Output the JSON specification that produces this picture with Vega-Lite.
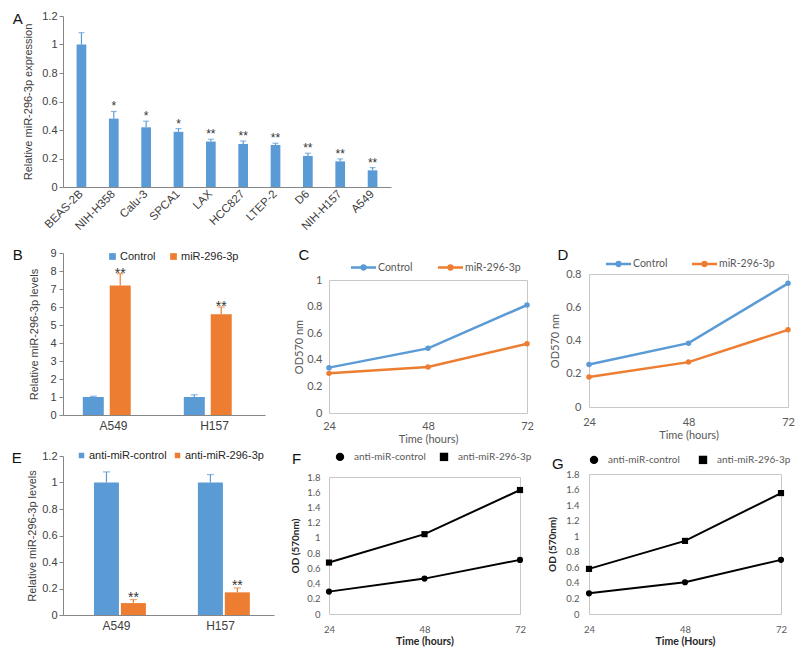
{
 "$schema": "https://vega.github.io/schema/vega-lite/v6.json",
 "padding": {"left": 11, "top": 10, "right": 5, "bottom": 5},
 "spacing": 14,
 "resolve": {"scale": {"color": "independent", "shape": "independent"}, "legend": {"color": "independent", "shape": "independent"}},
 "vconcat": [
  {
   "width": 328, "height": 171,
   "title": {"text": "A", "orient": "left", "anchor": "end", "angle": 0, "align": "right", "baseline": "middle", "offset": 1, "dx": 11, "dy": 9},
   "data": {"values": [
     {"cell": "BEAS-2B", "value": 1.0, "hi": 1.083, "sig": ""},
     {"cell": "NIH-H358", "value": 0.48, "hi": 0.53, "sig": "*"},
     {"cell": "Calu-3", "value": 0.419, "hi": 0.462, "sig": "*"},
     {"cell": "SPCA1", "value": 0.387, "hi": 0.41, "sig": "*"},
     {"cell": "LAX", "value": 0.319, "hi": 0.335, "sig": "**"},
     {"cell": "HCC827", "value": 0.302, "hi": 0.323, "sig": "**"},
     {"cell": "LTEP-2", "value": 0.295, "hi": 0.307, "sig": "**"},
     {"cell": "D6", "value": 0.218, "hi": 0.237, "sig": "**"},
     {"cell": "NIH-H157", "value": 0.18, "hi": 0.197, "sig": "**"},
     {"cell": "A549", "value": 0.117, "hi": 0.136, "sig": "**"}
   ]},
   "encoding": {
     "x": {"field": "cell", "type": "nominal", "sort": null, "title": null,
           "scale": {"paddingInner": 0.7, "paddingOuter": 0.42},
           "axis": {"labelAngle": -45, "labelAlign": "right", "labelBaseline": "middle", "ticks": false, "labelPadding": 5, "labelFontSize": 11.5}}
   },
   "layer": [
     {"mark": {"type": "bar", "color": "#5B9BD5"},
      "encoding": {"y": {"field": "value", "type": "quantitative", "title": "Relative miR-296-3p expression",
        "scale": {"domain": [0, 1.2]},
        "axis": {"values": [0, 0.2, 0.4, 0.6, 0.8, 1, 1.2], "format": "~g", "tickSize": 4, "labelPadding": 2, "titlePadding": 8}}}},
     {"mark": {"type": "rule", "color": "#5B9BD5", "strokeWidth": 1.2},
      "encoding": {"y": {"field": "value", "type": "quantitative", "title": "Relative miR-296-3p expression",
        "axis": {"values": [0, 0.2, 0.4, 0.6, 0.8, 1, 1.2], "format": "~g", "tickSize": 4, "labelPadding": 2, "titlePadding": 8}}, "y2": {"field": "hi"}}},
     {"mark": {"type": "tick", "color": "#5B9BD5", "size": 6, "thickness": 1.2},
      "encoding": {"y": {"field": "hi", "type": "quantitative", "title": "Relative miR-296-3p expression",
        "axis": {"values": [0, 0.2, 0.4, 0.6, 0.8, 1, 1.2], "format": "~g", "tickSize": 4, "labelPadding": 2, "titlePadding": 8}}}},
     {"mark": {"type": "text", "baseline": "alphabetic", "dy": -1, "fontSize": 12, "color": "#333333"},
      "encoding": {"y": {"field": "hi", "type": "quantitative", "title": "Relative miR-296-3p expression",
        "axis": {"values": [0, 0.2, 0.4, 0.6, 0.8, 1, 1.2], "format": "~g", "tickSize": 4, "labelPadding": 2, "titlePadding": 8}}, "text": {"field": "sig"}}}
   ]
  },
  {
   "resolve": {"scale": {"color": "independent", "shape": "independent"}, "legend": {"color": "independent", "shape": "independent"}},
   "hconcat": [
    {
     "resolve": {"scale": {"color": "independent"}, "legend": {"color": "independent"}},
     "vconcat": [
      {
       "width": 202, "height": 162,
       "title": {"text": "B", "orient": "left", "anchor": "end", "angle": 0, "align": "right", "baseline": "middle", "offset": 7, "dx": 11, "dy": 7.5},
       "data": {"values": [
         {"cell": "A549", "grp": "Control", "value": 1.0, "hi": 1.04, "sig": ""},
         {"cell": "A549", "grp": "miR-296-3p", "value": 7.2, "hi": 7.85, "sig": "**"},
         {"cell": "H157", "grp": "Control", "value": 1.0, "hi": 1.12, "sig": ""},
         {"cell": "H157", "grp": "miR-296-3p", "value": 5.6, "hi": 6.0, "sig": "**"}
       ]},
       "encoding": {
         "x": {"field": "cell", "type": "nominal", "title": null, "scale": {"paddingInner": 0.5, "paddingOuter": 0.25},
               "axis": {"labelAngle": 0, "ticks": false, "labelPadding": 5, "labelFontSize": 12}},
         "xOffset": {"field": "grp", "type": "nominal", "sort": ["Control", "miR-296-3p"], "scale": {"paddingInner": 0.25}}
       },
       "layer": [
         {"mark": {"type": "bar", "width": 21},
          "encoding": {
            "y": {"field": "value", "type": "quantitative", "title": "Relative miR-296-3p levels", "scale": {"domain": [0, 9]},
                  "axis": {"values": [0, 1, 2, 3, 4, 5, 6, 7, 8, 9], "tickSize": 4, "labelPadding": 3, "titlePadding": 10}},
            "color": {"field": "grp", "type": "nominal", "scale": {"domain": ["Control", "miR-296-3p"], "range": ["#5B9BD5", "#ED7D31"]},
                      "legend": {"orient": "none", "legendX": 44, "legendY": -2, "direction": "horizontal", "title": null, "gridAlign": "none",
                                 "symbolType": "square", "symbolSize": 45, "symbolStrokeWidth": 0, "labelFontSize": 11, "labelOffset": 2,
                                 "columnPadding": 12, "labelColor": "#262626"}}}},
         {"mark": {"type": "rule", "strokeWidth": 1.2},
          "encoding": {"y": {"field": "value", "type": "quantitative", "title": "Relative miR-296-3p levels",
                             "axis": {"values": [0, 1, 2, 3, 4, 5, 6, 7, 8, 9], "tickSize": 4, "labelPadding": 3, "titlePadding": 10}}, "y2": {"field": "hi"},
                       "color": {"field": "grp", "type": "nominal", "scale": {"domain": ["Control", "miR-296-3p"], "range": ["#5B9BD5", "#ED7D31"]}, "legend": null}}},
         {"mark": {"type": "tick", "size": 7, "thickness": 1.2},
          "encoding": {"y": {"field": "hi", "type": "quantitative", "title": "Relative miR-296-3p levels",
                             "axis": {"values": [0, 1, 2, 3, 4, 5, 6, 7, 8, 9], "tickSize": 4, "labelPadding": 3, "titlePadding": 10}},
                       "color": {"field": "grp", "type": "nominal", "scale": {"domain": ["Control", "miR-296-3p"], "range": ["#5B9BD5", "#ED7D31"]}, "legend": null}}},
         {"mark": {"type": "text", "baseline": "alphabetic", "dy": 4, "fontSize": 14, "color": "#333333"},
          "encoding": {"y": {"field": "hi", "type": "quantitative", "title": "Relative miR-296-3p levels",
                             "axis": {"values": [0, 1, 2, 3, 4, 5, 6, 7, 8, 9], "tickSize": 4, "labelPadding": 3, "titlePadding": 10}}, "text": {"field": "sig"}}}
       ]
      },
      {
       "width": 211, "height": 159,
       "title": {"text": "E", "orient": "left", "anchor": "end", "angle": 0, "align": "right", "baseline": "middle", "offset": 5, "dx": 10, "dy": 8},
       "data": {"values": [
         {"cell": "A549", "grp": "anti-miR-control", "value": 1.0, "hi": 1.08, "sig": ""},
         {"cell": "A549", "grp": "anti-miR-296-3p", "value": 0.09, "hi": 0.116, "sig": "**"},
         {"cell": "H157", "grp": "anti-miR-control", "value": 1.0, "hi": 1.06, "sig": ""},
         {"cell": "H157", "grp": "anti-miR-296-3p", "value": 0.171, "hi": 0.204, "sig": "**"}
       ]},
       "encoding": {
         "x": {"field": "cell", "type": "nominal", "title": null, "scale": {"paddingInner": 0.45, "paddingOuter": 0.24},
               "axis": {"labelAngle": 0, "ticks": false, "labelPadding": 5, "labelFontSize": 12}},
         "xOffset": {"field": "grp", "type": "nominal", "sort": ["anti-miR-control", "anti-miR-296-3p"], "scale": {"paddingInner": 0.17}}
       },
       "layer": [
         {"mark": {"type": "bar", "width": 25},
          "encoding": {
            "y": {"field": "value", "type": "quantitative", "title": "Relative miR-296-3p levels", "scale": {"domain": [0, 1.2]},
                  "axis": {"values": [0, 0.2, 0.4, 0.6, 0.8, 1, 1.2], "format": "~g", "tickSize": 4, "labelPadding": 2, "titlePadding": 4}},
            "color": {"field": "grp", "type": "nominal", "scale": {"domain": ["anti-miR-control", "anti-miR-296-3p"], "range": ["#5B9BD5", "#ED7D31"]},
                      "legend": {"orient": "none", "legendX": 13, "legendY": -6, "direction": "horizontal", "title": null, "gridAlign": "none",
                                 "symbolType": "square", "symbolSize": 30, "symbolStrokeWidth": 0, "labelFontSize": 11, "labelOffset": 2,
                                 "columnPadding": 5, "labelColor": "#262626"}}}},
         {"mark": {"type": "rule", "strokeWidth": 1.2},
          "encoding": {"y": {"field": "value", "type": "quantitative", "title": "Relative miR-296-3p levels",
                             "axis": {"values": [0, 0.2, 0.4, 0.6, 0.8, 1, 1.2], "format": "~g", "tickSize": 4, "labelPadding": 2, "titlePadding": 4}}, "y2": {"field": "hi"},
                       "color": {"field": "grp", "type": "nominal", "scale": {"domain": ["anti-miR-control", "anti-miR-296-3p"], "range": ["#5B9BD5", "#ED7D31"]}, "legend": null}}},
         {"mark": {"type": "tick", "size": 7, "thickness": 1.2},
          "encoding": {"y": {"field": "hi", "type": "quantitative", "title": "Relative miR-296-3p levels",
                             "axis": {"values": [0, 0.2, 0.4, 0.6, 0.8, 1, 1.2], "format": "~g", "tickSize": 4, "labelPadding": 2, "titlePadding": 4}},
                       "color": {"field": "grp", "type": "nominal", "scale": {"domain": ["anti-miR-control", "anti-miR-296-3p"], "range": ["#5B9BD5", "#ED7D31"]}, "legend": null}}},
         {"mark": {"type": "text", "baseline": "alphabetic", "dy": 2, "fontSize": 14, "color": "#333333"},
          "encoding": {"y": {"field": "hi", "type": "quantitative", "title": "Relative miR-296-3p levels",
                             "axis": {"values": [0, 0.2, 0.4, 0.6, 0.8, 1, 1.2], "format": "~g", "tickSize": 4, "labelPadding": 2, "titlePadding": 4}}, "text": {"field": "sig"}}}
       ]
      }
     ],
     "spacing": 19
    },
    {
     "resolve": {"scale": {"color": "independent", "shape": "independent"}, "legend": {"color": "independent", "shape": "independent"}},
     "hconcat": [
      {
       "resolve": {"scale": {"color": "independent", "shape": "independent"}, "legend": {"color": "independent", "shape": "independent"}},
       "vconcat": [
        {
         "vconcat": [
          {"width": 10, "height": 4, "data": {"values": [{"label": "C"}]},
           "mark": {"type": "text", "font": "Liberation Sans", "fontSize": 15, "dx": -30, "color": "#111111"},
           "encoding": {"text": {"field": "label", "type": "nominal"}}},
          {
           "width": 198, "height": 133,
           "view": {"stroke": "#c8c8c8"},
           "data": {"values": [
             {"t": 24, "grp": "Control", "v": 0.341}, {"t": 48, "grp": "Control", "v": 0.486}, {"t": 72, "grp": "Control", "v": 0.812},
             {"t": 24, "grp": "miR-296-3p", "v": 0.298}, {"t": 48, "grp": "miR-296-3p", "v": 0.346}, {"t": 72, "grp": "miR-296-3p", "v": 0.521}
           ]},
           "mark": {"type": "line", "strokeWidth": 2.5, "point": {"filled": true, "size": 30}},
           "encoding": {
             "x": {"field": "t", "type": "quantitative", "scale": {"domain": [24, 72], "nice": false, "zero": false},
                   "axis": {"values": [24, 48, 72], "title": "Time (hours)", "domain": false, "ticks": false, "labelFlush": false, "labelPadding": 7, "titlePadding": 2,
                            "labelFont": "Lato", "labelFontSize": 11, "labelColor": "#595959", "titleFont": "Lato", "titleFontSize": 11, "titleColor": "#595959"}},
             "y": {"field": "v", "type": "quantitative", "scale": {"domain": [0, 1]},
                   "axis": {"values": [0, 0.2, 0.4, 0.6, 0.8, 1], "format": "~g", "title": "OD570 nm", "domain": false, "ticks": false, "labelPadding": 7, "titlePadding": 2,
                            "labelFont": "Lato", "labelFontSize": 11, "labelColor": "#595959", "titleFont": "Lato", "titleFontSize": 11, "titleColor": "#595959"}},
             "color": {"field": "grp", "type": "nominal", "sort": ["Control", "miR-296-3p"], "scale": {"range": ["#5B9BD5", "#ED7D31"]},
                       "legend": {"orient": "none", "legendX": 29, "legendY": 9, "direction": "horizontal", "title": null, "gridAlign": "none",
                                  "symbolType": "M-3,0H3M-0.45,0A0.45,0.45 0 1,0 0.45,0A0.45,0.45 0 1,0 -0.45,0", "symbolSize": 70, "symbolStrokeWidth": 2.5,
                                  "labelOffset": 9, "columnPadding": 19, "labelFont": "Lato", "labelFontSize": 10.5, "labelColor": "#595959",
                                  "encode": {"symbols": {"update": {"shape": {"value": "M-3,0H3M-0.45,0A0.45,0.45 0 1,0 0.45,0A0.45,0.45 0 1,0 -0.45,0"}, "strokeWidth": {"value": 2.5}}}}}}
           }
          }
         ],
         "spacing": 10
        },
        {
         "width": 191, "height": 137,
         "view": {"stroke": "#c8c8c8"},
         "title": {"text": "F", "orient": "top", "anchor": "start", "frame": "group", "baseline": "bottom", "offset": 0, "dx": -37, "dy": 30},
         "data": {"values": [
           {"t": 24, "grp": "anti-miR-control", "v": 0.294}, {"t": 48, "grp": "anti-miR-control", "v": 0.465}, {"t": 72, "grp": "anti-miR-control", "v": 0.711},
           {"t": 24, "grp": "anti-miR-296-3p", "v": 0.676}, {"t": 48, "grp": "anti-miR-296-3p", "v": 1.049}, {"t": 72, "grp": "anti-miR-296-3p", "v": 1.629}
         ]},
         "encoding": {
           "x": {"field": "t", "type": "quantitative", "scale": {"domain": [24, 72], "nice": false, "zero": false},
                 "axis": {"values": [24, 48, 72], "title": "Time (hours)", "domain": false, "ticks": false, "labelFlush": false, "labelPadding": 10, "titlePadding": 3,
                          "labelFont": "Lato", "labelFontSize": 9.5, "labelColor": "#595959", "titleFont": "Lato", "titleFontSize": 10.5, "titleFontWeight": "bold", "titleColor": "#262626"}},
           "y": {"field": "v", "type": "quantitative", "scale": {"domain": [0, 1.8]},
                 "axis": {"values": [0, 0.2, 0.4, 0.6, 0.8, 1, 1.2, 1.4, 1.6, 1.8], "format": "~g", "title": "OD (570nm)", "domain": false, "ticks": false, "labelPadding": 9, "titlePadding": 6,
                          "labelFont": "Lato", "labelFontSize": 9.5, "labelColor": "#595959", "titleFont": "Lato", "titleFontSize": 10, "titleFontWeight": "bold", "titleColor": "#262626"}}
         },
         "layer": [
           {"mark": {"type": "line", "color": "black", "strokeWidth": 2}, "encoding": {"detail": {"field": "grp", "type": "nominal"}}},
           {"mark": {"type": "point", "filled": true, "color": "black", "opacity": 1, "size": 38},
            "encoding": {"shape": {"field": "grp", "type": "nominal", "sort": ["anti-miR-control", "anti-miR-296-3p"], "scale": {"range": ["circle", "square"]},
              "legend": {"orient": "none", "legendX": 6, "legendY": -25.5, "direction": "horizontal", "title": null,
                         "symbolSize": 70, "labelOffset": 9, "columnPadding": 10,
                         "labelFont": "Lato", "labelFontSize": 10, "labelColor": "#595959",
                         "encode": {"symbols": {"update": {"shape": {"signal": "datum.value === 'anti-miR-control' ? 'M-3,0H3M-0.6,0A0.6,0.6 0 1,0 0.6,0A0.6,0.6 0 1,0 -0.6,0' : 'M-3,0H3M-0.8,-0.8H0.8V0.8H-0.8Z'"},
                                                           "stroke": {"value": "black"}, "strokeWidth": {"value": 2}, "fill": {"value": "black"}, "size": {"value": 70}, "opacity": {"value": 1}}}}}}}}
         ]
        }
       ],
       "spacing": 6
      },
      {
       "resolve": {"scale": {"color": "independent", "shape": "independent"}, "legend": {"color": "independent", "shape": "independent"}},
       "vconcat": [
        {
         "vconcat": [
          {"width": 10, "height": 4, "data": {"values": [{"label": "D"}]},
           "mark": {"type": "text", "font": "Liberation Sans", "fontSize": 15, "dx": -31, "color": "#111111"},
           "encoding": {"text": {"field": "label", "type": "nominal"}}},
          {
           "width": 199, "height": 133,
           "view": {"stroke": "#c8c8c8"},
           "data": {"values": [
             {"t": 24, "grp": "Control", "v": 0.256}, {"t": 48, "grp": "Control", "v": 0.384}, {"t": 72, "grp": "Control", "v": 0.744},
             {"t": 24, "grp": "miR-296-3p", "v": 0.18}, {"t": 48, "grp": "miR-296-3p", "v": 0.27}, {"t": 72, "grp": "miR-296-3p", "v": 0.464}
           ]},
           "mark": {"type": "line", "strokeWidth": 2.5, "point": {"filled": true, "size": 30}},
           "encoding": {
             "x": {"field": "t", "type": "quantitative", "scale": {"domain": [24, 72], "nice": false, "zero": false},
                   "axis": {"values": [24, 48, 72], "title": "Time (hours)", "domain": false, "ticks": false, "labelFlush": false, "labelPadding": 9, "titlePadding": 2,
                            "labelFont": "Lato", "labelFontSize": 11, "labelColor": "#595959", "titleFont": "Lato", "titleFontSize": 11, "titleColor": "#595959"}},
             "y": {"field": "v", "type": "quantitative", "scale": {"domain": [0, 0.8]},
                   "axis": {"values": [0, 0.2, 0.4, 0.6, 0.8], "format": "~g", "title": "OD570 nm", "domain": false, "ticks": false, "labelPadding": 8, "titlePadding": 5,
                            "labelFont": "Lato", "labelFontSize": 11, "labelColor": "#595959", "titleFont": "Lato", "titleFontSize": 11, "titleColor": "#595959"}},
             "color": {"field": "grp", "type": "nominal", "sort": ["Control", "miR-296-3p"], "scale": {"range": ["#5B9BD5", "#ED7D31"]},
                       "legend": {"orient": "none", "legendX": 24, "legendY": 5.5, "direction": "horizontal", "title": null, "gridAlign": "none",
                                  "symbolType": "M-3,0H3M-0.45,0A0.45,0.45 0 1,0 0.45,0A0.45,0.45 0 1,0 -0.45,0", "symbolSize": 70, "symbolStrokeWidth": 2.5,
                                  "labelOffset": 9, "columnPadding": 18, "labelFont": "Lato", "labelFontSize": 10.5, "labelColor": "#595959",
                                  "encode": {"symbols": {"update": {"shape": {"value": "M-3,0H3M-0.45,0A0.45,0.45 0 1,0 0.45,0A0.45,0.45 0 1,0 -0.45,0"}, "strokeWidth": {"value": 2.5}}}}}}
           }
          }
         ],
         "spacing": 4
        },
        {
         "width": 192, "height": 140,
         "view": {"stroke": "#c8c8c8"},
         "title": {"text": "G", "orient": "top", "anchor": "start", "frame": "group", "baseline": "bottom", "offset": 0, "dx": -37, "dy": 32},
         "data": {"values": [
           {"t": 24, "grp": "anti-miR-control", "v": 0.266}, {"t": 48, "grp": "anti-miR-control", "v": 0.408}, {"t": 72, "grp": "anti-miR-control", "v": 0.696},
           {"t": 24, "grp": "anti-miR-296-3p", "v": 0.58}, {"t": 48, "grp": "anti-miR-296-3p", "v": 0.94}, {"t": 72, "grp": "anti-miR-296-3p", "v": 1.555}
         ]},
         "encoding": {
           "x": {"field": "t", "type": "quantitative", "scale": {"domain": [24, 72], "nice": false, "zero": false},
                 "axis": {"values": [24, 48, 72], "title": "Time (Hours)", "domain": false, "ticks": false, "labelFlush": false, "labelPadding": 10, "titlePadding": 3,
                          "labelFont": "Lato", "labelFontSize": 9.5, "labelColor": "#595959", "titleFont": "Lato", "titleFontSize": 10.5, "titleFontWeight": "bold", "titleColor": "#262626"}},
           "y": {"field": "v", "type": "quantitative", "scale": {"domain": [0, 1.8]},
                 "axis": {"values": [0, 0.2, 0.4, 0.6, 0.8, 1, 1.2, 1.4, 1.6, 1.8], "format": "~g", "title": "OD (570nm)", "domain": false, "ticks": false, "labelPadding": 10, "titlePadding": 8,
                          "labelFont": "Lato", "labelFontSize": 9.5, "labelColor": "#595959", "titleFont": "Lato", "titleFontSize": 10, "titleFontWeight": "bold", "titleColor": "#262626"}}
         },
         "layer": [
           {"mark": {"type": "line", "color": "black", "strokeWidth": 2}, "encoding": {"detail": {"field": "grp", "type": "nominal"}}},
           {"mark": {"type": "point", "filled": true, "color": "black", "opacity": 1, "size": 38},
            "encoding": {"shape": {"field": "grp", "type": "nominal", "sort": ["anti-miR-control", "anti-miR-296-3p"], "scale": {"range": ["circle", "square"]},
              "legend": {"orient": "none", "legendX": 0, "legendY": -19.5, "direction": "horizontal", "title": null,
                         "symbolSize": 70, "labelOffset": 9, "columnPadding": 15,
                         "labelFont": "Lato", "labelFontSize": 10, "labelColor": "#595959",
                         "encode": {"symbols": {"update": {"shape": {"signal": "datum.value === 'anti-miR-control' ? 'M-3,0H3M-0.6,0A0.6,0.6 0 1,0 0.6,0A0.6,0.6 0 1,0 -0.6,0' : 'M-3,0H3M-0.8,-0.8H0.8V0.8H-0.8Z'"},
                                                           "stroke": {"value": "black"}, "strokeWidth": {"value": 2}, "fill": {"value": "black"}, "size": {"value": 70}, "opacity": {"value": 1}}}}}}}}
         ]
        }
       ],
       "spacing": 13
      }
     ],
     "spacing": 13
    }
   ],
   "spacing": 16
  }
 ],
 "config": {
  "view": {"stroke": null},
  "font": "Liberation Sans",
  "axis": {"grid": false, "labelColor": "#404040", "titleColor": "#404040", "labelFontSize": 11, "titleFontSize": 11, "titleFontWeight": "normal",
           "domainColor": "#868686", "tickColor": "#868686", "labelFont": "Liberation Sans", "titleFont": "Liberation Sans"},
  "title": {"fontWeight": "normal", "fontSize": 15, "font": "Liberation Sans", "color": "#111111"}
 }
}
